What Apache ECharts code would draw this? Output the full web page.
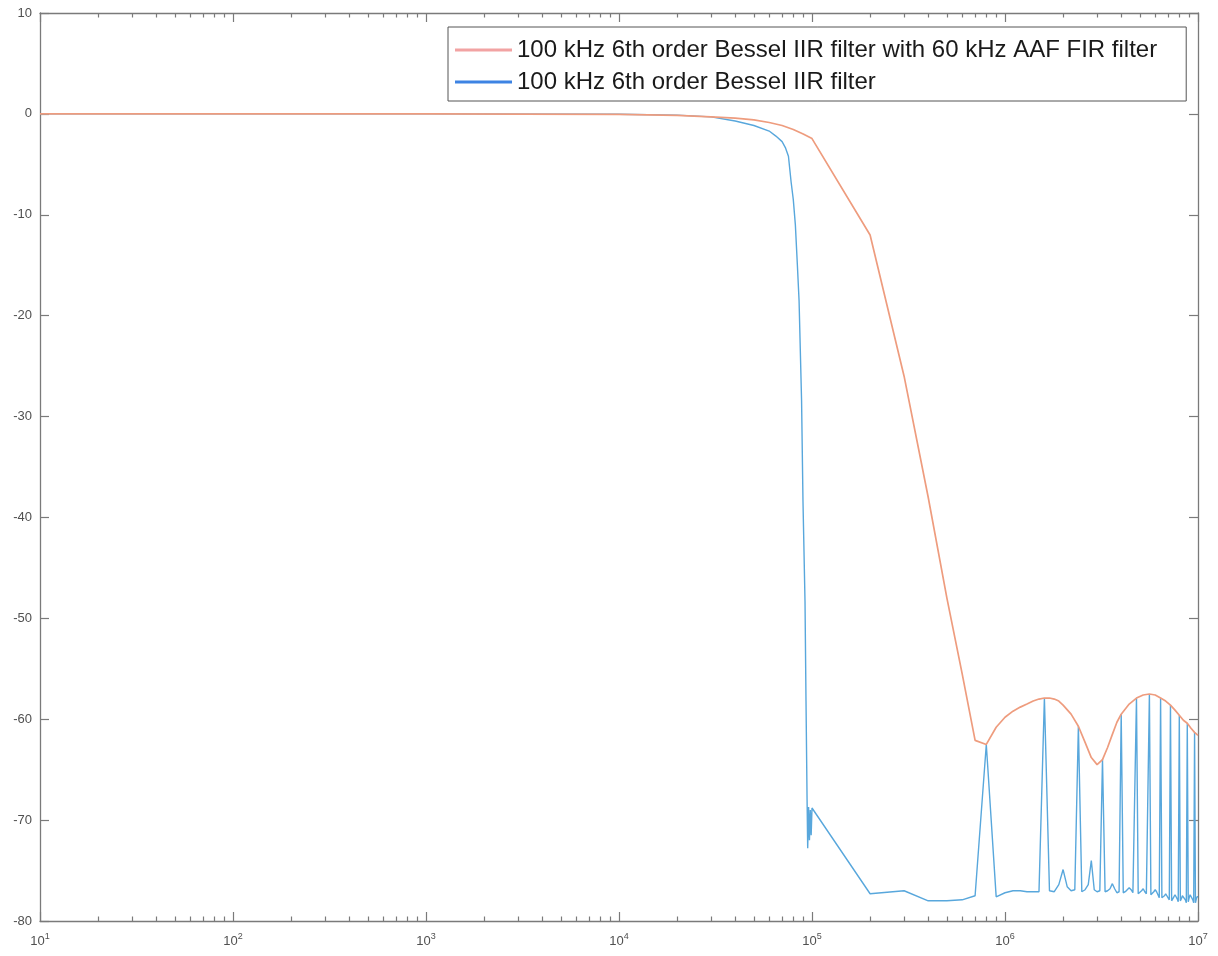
<!DOCTYPE html>
<html>
<head>
<meta charset="utf-8">
<script src="https://cdn.jsdelivr.net/npm/echarts@6/dist/echarts.min.js"></script>
<style>
  html, body { margin: 0; padding: 0; background: #ffffff; }
  #chart { width: 1218px; height: 956px; }
</style>
</head>
<body>
<div id="chart"></div>
<script>
// ---- data (frequencies in kHz, magnitudes in dB) ----
const orangeName = '100 kHz 6th order Bessel IIR filter with 60 kHz AAF FIR filter';
const blueName = '100 kHz 6th order Bessel IIR filter';

const orangeFreqKHz = [0.01, 1, 10, 20, 30, 40, 50, 60, 70, 80, 90, 100,
  200, 300, 400, 500, 600, 700, 800, 900, 1000, 1100, 1200, 1300, 1400, 1500,
  1600, 1700, 1800, 1900, 2000, 2200, 2400, 2600, 2800, 3000, 3200, 3400, 3600,
  3800, 4000, 4400, 4800, 5200, 5600, 6000, 6400, 6800, 7200, 7600, 8000, 8400,
  8800, 9200, 9600, 10000];
const orangeDb = [0, 0, -0.05, -0.15, -0.3, -0.42, -0.6, -0.85, -1.15, -1.55, -2.0, -2.45,
  -12.0, -26.0, -38.0, -48.0, -55.5, -62.1, -62.5, -60.8, -59.8, -59.2, -58.8, -58.5, -58.2, -58.0,
  -57.9, -57.9, -58.0, -58.2, -58.6, -59.5, -60.7, -62.3, -63.8, -64.5, -64.0, -62.8, -61.5,
  -60.3, -59.5, -58.5, -57.9, -57.6, -57.5, -57.6, -57.9, -58.2, -58.6, -59.1, -59.6, -60.1,
  -60.4, -60.9, -61.3, -61.6];

const blueFreqKHz = [0.01, 1, 10, 20, 30, 40, 50, 60, 65, 70, 73, 75.5, 78, 80, 82, 84, 85.7,
  88.3, 89.8, 92, 93.1, 94.3, 95, 96, 97, 98, 99, 100,
  200, 300, 400, 500, 600, 700, 800, 900, 1000,
  1100, 1200, 1300, 1400, 1500, 1600, 1700, 1800, 1900, 2000,
  2100, 2200, 2300, 2400, 2500, 2600, 2700, 2800, 2900, 3000,
  3100, 3200, 3300, 3400, 3500, 3600, 3700, 3800, 3900, 4000,
  4100, 4200, 4300, 4400, 4500, 4600, 4700, 4800, 4900, 5000,
  5100, 5200, 5300, 5400, 5500, 5600, 5700, 5800, 5900, 6000,
  6100, 6200, 6300, 6400, 6500, 6600, 6700, 6800, 6900, 7000,
  7100, 7200, 7300, 7400, 7500, 7600, 7700, 7800, 7900, 8000,
  8100, 8200, 8300, 8400, 8500, 8600, 8700, 8800, 8900, 9000,
  9100, 9200, 9300, 9400, 9500, 9600, 9700, 9800, 9900, 10000];
const blueDb = [0, 0, -0.03, -0.12, -0.3, -0.7, -1.15, -1.7, -2.2, -2.75, -3.4, -4.2, -6.8, -8.5, -11, -15, -18.5,
  -28.4, -38.4, -48.3, -58.2, -68.0, -72.8, -68.7, -72.0, -69.0, -71.5, -68.8,
  -77.3, -77.0, -78.0, -78.0, -77.9, -77.5, -62.5, -77.6, -77.2,
  -77.0, -77.0, -77.1, -77.1, -77.1, -57.9, -77.0, -77.1, -76.4, -74.9,
  -76.6, -77.0, -76.9, -60.7, -77.1, -76.9, -76.4, -74.0, -76.9, -77.1,
  -77.0, -64.0, -77.1, -77.0, -76.8, -76.3, -76.8, -77.2, -77.1, -59.5,
  -77.2, -77.1, -77.0, -76.7, -76.9, -77.2, -77.3, -57.9, -77.3, -77.2,
  -77.0, -76.8, -77.1, -77.3, -77.4, -57.5, -77.4, -77.3, -77.1, -76.9,
  -77.1, -77.4, -77.7, -57.9, -77.7, -77.6, -77.5, -77.3, -77.4, -77.7,
  -77.9, -58.6, -78.0, -77.9, -77.6, -77.4, -77.6, -77.8, -78.1, -59.6,
  -78.0, -77.8, -77.5, -77.4, -77.6, -77.9, -78.2, -60.4, -78.1, -77.7,
  -77.4, -77.3, -77.5, -77.9, -78.2, -61.3, -78.2, -77.8, -77.6, -77.6];

const xMin = 10, xMax = 1e7;
const yMin = -80, yMax = 10, yStep = 10;

// ---- styles ----
const FONT = '"Liberation Sans", Arial, Helvetica, sans-serif';
const AXIS_COLOR = '#7a7a7a';
const LABEL_COLOR = '#505050';
const ORANGE = '#ee9c7e';
const BLUE = '#58a7dc';

function toPairs(fk, db) { return fk.map((f, i) => [f * 1000, db[i]]); }

const chart = echarts.init(document.getElementById('chart'), null, { renderer: 'canvas' });

function xAxisCfg(pos, showLabels) {
  return {
    type: 'log', logBase: 10, position: pos, min: xMin, max: xMax,
    axisLine: { show: true, onZero: false, lineStyle: { color: AXIS_COLOR, width: 1.3 } },
    axisTick: { show: true, inside: true, length: 9, lineStyle: { color: AXIS_COLOR, width: 1.2 } },
    minorTick: { show: true, splitNumber: 9, length: 4.5, lineStyle: { color: AXIS_COLOR, width: 1.2 } },
    splitLine: { show: false },
    minorSplitLine: { show: false },
    axisLabel: {
      show: showLabels, margin: 11, showMinLabel: true, showMaxLabel: true,
      formatter: function (v) { return '{b|10}{s|' + Math.round(Math.log10(v)) + '}'; },
      rich: {
        b: { fontSize: 13, color: LABEL_COLOR, fontFamily: FONT },
        s: { fontSize: 9, color: LABEL_COLOR, fontFamily: FONT, padding: [0, 0, 9, 0] }
      }
    }
  };
}
function yAxisCfg(pos, showLabels) {
  return {
    type: 'value', position: pos, min: yMin, max: yMax, interval: yStep,
    axisLine: { show: true, onZero: false, lineStyle: { color: AXIS_COLOR, width: 1.3 } },
    axisTick: { show: true, inside: true, length: 9, lineStyle: { color: AXIS_COLOR, width: 1.2 } },
    splitLine: { show: false },
    axisLabel: { show: showLabels, margin: 8, color: LABEL_COLOR, fontSize: 13, fontFamily: FONT,
      showMinLabel: true, showMaxLabel: true }
  };
}

chart.setOption({
  animation: false,
  backgroundColor: '#ffffff',
  grid: { left: 40, right: 20, top: 13, bottom: 35, containLabel: false, outerBoundsMode: 'none' },
  xAxis: [xAxisCfg('bottom', true), xAxisCfg('top', false)],
  yAxis: [yAxisCfg('left', true), yAxisCfg('right', false)],
  legend: {
    show: true, orient: 'vertical', left: 448, top: 27,
    padding: [11, 29, 7, 7], itemGap: 8, itemWidth: 57, itemHeight: 3,
    backgroundColor: '#ffffff', borderColor: '#555555', borderWidth: 1, borderRadius: 0,
    icon: 'rect',
    textStyle: { fontSize: 24, lineHeight: 24, color: '#1a1a1a', fontFamily: FONT },
    data: [
      { name: orangeName, itemStyle: { color: '#f2a3a3' } },
      { name: blueName, itemStyle: { color: '#3d83e3' } }
    ]
  },
  series: [
    {
      name: blueName, type: 'line', xAxisIndex: 0, yAxisIndex: 0,
      data: toPairs(blueFreqKHz, blueDb),
      showSymbol: false, symbol: 'none',
      lineStyle: { color: BLUE, width: 1.4 }, itemStyle: { color: BLUE }, z: 2
    },
    {
      name: orangeName, type: 'line', xAxisIndex: 0, yAxisIndex: 0,
      data: toPairs(orangeFreqKHz, orangeDb),
      showSymbol: false, symbol: 'none',
      lineStyle: { color: ORANGE, width: 1.7 }, itemStyle: { color: ORANGE }, z: 3
    }
  ]
});
</script>
</body>
</html>
